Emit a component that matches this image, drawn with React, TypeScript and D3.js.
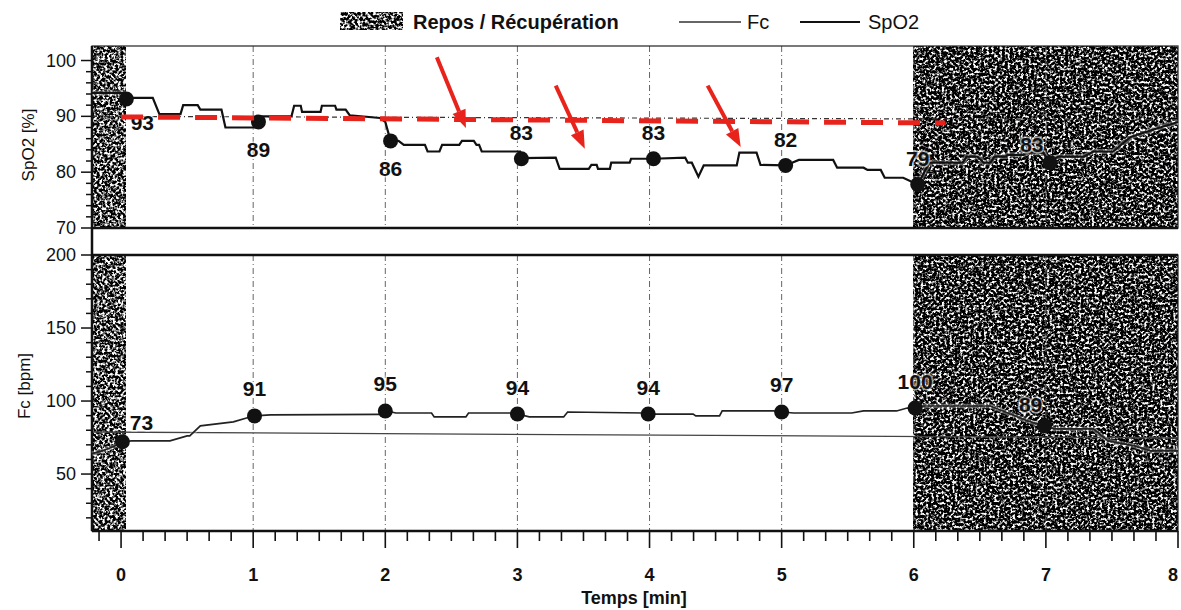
import React from 'react';
import * as d3 from 'd3';

// time in minutes, SpO2 in %
const spo2Time = [-0.22, 0.02, 0.04, 0.24, 0.29, 0.45, 0.47, 0.58, 0.6, 0.76, 0.79, 1.03, 1.07, 1.29, 1.31, 1.36, 1.37, 1.51, 1.52, 1.62, 1.63, 1.7, 1.73, 1.96, 2.0, 2.04, 2.1, 2.14, 2.3, 2.32, 2.41, 2.43, 2.56, 2.58, 2.67, 2.69, 2.71, 2.73, 3.02, 3.03, 3.29, 3.32, 3.54, 3.56, 3.6, 3.61, 3.7, 3.71, 3.85, 3.86, 4.03, 4.27, 4.29, 4.32, 4.37, 4.41, 4.66, 4.68, 4.81, 4.84, 5.03, 5.13, 5.39, 5.42, 5.62, 5.65, 5.75, 5.78, 5.92, 6.03, 6.09, 6.12, 6.37, 6.4, 6.48, 6.53, 6.58, 6.61, 6.7, 6.71, 6.83, 6.85, 6.98, 7.03, 7.09, 7.29, 7.36, 7.51, 7.64, 7.81, 8.0];
const spo2Value = [94.2, 94.2, 93.3, 93.3, 90.4, 90.4, 92, 92, 91.2, 91.2, 88, 88, 90, 90, 91.9, 91.9, 90.8, 90.8, 91.9, 91.9, 91.2, 91.2, 90.2, 89.7, 89, 85.6, 85.6, 84.9, 84.9, 83.7, 83.7, 84.9, 84.9, 85.6, 85.6, 84.9, 84.9, 83.7, 83.7, 82.5, 82.6, 80.6, 80.6, 81.3, 81.3, 80.6, 80.6, 81.7, 81.7, 82.4, 82.4, 82.6, 81.7, 81.7, 79.2, 81.2, 81.2, 83.5, 83.5, 81.3, 81.2, 82.2, 82.2, 80.8, 80.8, 80.4, 80.4, 79, 79, 77.8, 80.5, 81.7, 81.7, 82.8, 82.8, 81.7, 81.7, 82.8, 82.8, 83.1, 83.1, 83.5, 83.5, 81.7, 82.8, 82.8, 83.7, 83.7, 86.3, 87.6, 89];

// time in minutes, Fc in bpm
const fcTime = [-0.22, -0.14, -0.05, 0.01, 0.08, 0.37, 0.5, 0.52, 0.6, 0.85, 0.95, 1.01, 1.13, 1.96, 2.01, 2.08, 2.35, 2.37, 2.61, 2.63, 2.96, 3.0, 3.09, 3.35, 3.38, 3.96, 3.99, 4.07, 4.33, 4.35, 4.53, 4.55, 4.94, 5.0, 5.09, 5.53, 5.62, 5.87, 5.95, 6.01, 6.08, 6.58, 6.86, 6.99, 7.06, 7.36, 7.47, 7.67, 7.79, 8.0];
const fcValue = [64, 66, 69, 72.1, 72.7, 72.7, 76.1, 76.1, 83, 85.7, 88.4, 89.8, 90.5, 90.8, 93.2, 91.8, 91.8, 89.1, 89.1, 91.8, 91.8, 91.1, 89.1, 89.1, 92.5, 91.8, 91.1, 91.1, 91.1, 89.8, 89.8, 93.2, 93.2, 92.5, 91.8, 91.8, 93.2, 93.2, 95.2, 95.2, 96.6, 96.6, 86.4, 83, 80.9, 80.9, 72.7, 69.3, 65.9, 65.9];

const spo2DotTime = [0.04, 1.04, 2.04, 3.03, 4.03, 5.03, 6.03, 7.03];
const spo2DotValue = [93.1, 89, 85.6, 82.4, 82.4, 81.2, 77.8, 81.7];
const spo2Labels = ['93', '89', '86', '83', '83', '82', '79', '83'];

const fcDotTime = [0.01, 1.01, 2.0, 3.0, 3.99, 5.0, 6.01, 6.99];
const fcDotValue = [72.1, 89.8, 93.2, 91.1, 91.1, 92.5, 95.2, 83];
const fcLabels = ['73', '91', '95', '94', '94', '97', '100', '89'];

const restStart = [-0.22, 6];
const restEnd = [0.03, 8];

const minuteTicks = [0, 1, 2, 3, 4, 5, 6, 7, 8];
const spo2Ticks = [70, 80, 90, 100];
const fcTicks = [50, 100, 150, 200];

const spo2RefTime = [-0.22, 8];
const spo2RefValue = [90, 89.4];
const fcRefTime = [-0.22, 8];
const fcRefValue = [78.8, 74.7];

// red annotations drawn on the print
const targetTime = [0, 6.24];
const targetValue = [89.9, 88.8];
const arrowTailTime = [2.39, 3.29, 4.44];
const arrowTailValue = [100.6, 95.5, 95.5];
const arrowTipTime = [2.61, 3.51, 4.69];
const arrowTipValue = [87.9, 84.2, 84.5];

const W = 1181;
const H = 610;
const left = 92;
const right = 1178;
const topY0 = 46;
const topY1 = 228;
const botY0 = 255;
const botY1 = 531;
const font = '"Liberation Sans", Arial, sans-serif';
const red = '#e8231c';

export default function App() {
  const x = d3.scaleLinear().domain([-0.22, 8]).range([left, right]);
  const yTop = d3.scaleLinear().domain([70, 102.6]).range([topY1, topY0]);
  const yBot = d3.scaleLinear().domain([11, 200]).range([botY1, botY0]);

  const spo2Line = d3.line<number>().x((_, i) => x(spo2Time[i])).y(v => yTop(v))(spo2Value) || '';
  const fcLine = d3.line<number>().x((_, i) => x(fcTime[i])).y(v => yBot(v))(fcValue) || '';

  const minorX = d3.range(-1, 49).map(i => i / 6);
  const minorTop = d3.range(70, 102, 2);
  const minorBot = d3.range(20, 201, 10);

  const arrows = arrowTailTime.map((t, i) => {
    const x0 = x(t), y0 = yTop(arrowTailValue[i]);
    const x1 = x(arrowTipTime[i]), y1 = yTop(arrowTipValue[i]);
    const a = Math.atan2(y1 - y0, x1 - x0);
    const hl = 18, hw = 7;
    const bx = x1 - hl * Math.cos(a), by = y1 - hl * Math.sin(a);
    const nx = -Math.sin(a) * hw, ny = Math.cos(a) * hw;
    return { x0, y0, bx, by, head: `${x1},${y1} ${bx + nx},${by + ny} ${bx - nx},${by - ny}` };
  });

  const topLabelPos = (i: number) => {
    if (i === 0) return [16, 23];
    if (i < 3) return [0, 28];
    if (i === 7) return [-18, -18];
    return [0, -26];
  };
  const botLabelPos = (i: number) => {
    if (i === 0) return [19, -19];
    if (i === 7) return [-14, -21];
    return [0, -27];
  };

  return (
    <svg width={W} height={H} style={{ position: 'absolute', left: 0, top: 0, background: '#fff' }} fontFamily={font}>
      <defs>
        <filter id="grain" x="0" y="0" width="1" height="1" filterUnits="objectBoundingBox" colorInterpolationFilters="sRGB">
          <feTurbulence type="fractalNoise" baseFrequency="0.38" numOctaves="2" seed="7" result="n" />
          <feColorMatrix in="n" type="matrix" values="4.6 0 0 0 -2.0  4.6 0 0 0 -2.0  4.6 0 0 0 -2.0  0 0 0 0 1" />
        </filter>
        <filter id="grainDark" x="0" y="0" width="1" height="1" filterUnits="objectBoundingBox" colorInterpolationFilters="sRGB">
          <feTurbulence type="fractalNoise" baseFrequency="0.38" numOctaves="2" seed="11" result="n" />
          <feColorMatrix in="n" type="matrix" values="4.6 0 0 0 -2.17  4.6 0 0 0 -2.17  4.6 0 0 0 -2.17  0 0 0 0 1" />
        </filter>
      </defs>

      {/* legend */}
      <rect x={340} y={12} width={63} height={18} fill="#444" filter="url(#grain)" />
      <text x={413} y={29} fontSize={20} fontWeight="bold" fill="#111">Repos / Récupération</text>
      <line x1={679} x2={741} y1={22} y2={22} stroke="#333" strokeWidth={1.5} />
      <text x={747} y={29} fontSize={20} fill="#111">Fc</text>
      <line x1={800} x2={860} y1={22} y2={22} stroke="#111" strokeWidth={2} />
      <text x={868} y={29} fontSize={20} fill="#111">SpO2</text>

      {/* rest / recovery bands */}
      {restStart.map((s, i) => {
        const f = i === 0 ? 'url(#grain)' : 'url(#grainDark)';
        return (
          <g key={'rest' + i}>
            <rect x={x(s)} y={topY0} width={x(restEnd[i]) - x(s)} height={topY1 - topY0} fill="#444" filter={f} />
            <rect x={x(s)} y={botY0} width={x(restEnd[i]) - x(s)} height={botY1 - botY0} fill="#444" filter={f} />
          </g>
        );
      })}

      {/* vertical grid */}
      {minuteTicks.filter(t => t > 0 && t < 8).map(t => (
        <g key={'g' + t} stroke="#666" strokeWidth={1} strokeDasharray="6,3,1,3">
          <line x1={x(t)} x2={x(t)} y1={topY0} y2={topY1} />
          <line x1={x(t)} x2={x(t)} y1={botY0} y2={botY1} />
        </g>
      ))}

      {/* reference lines */}
      <line x1={x(spo2RefTime[0])} x2={x(spo2RefTime[1])} y1={yTop(spo2RefValue[0])} y2={yTop(spo2RefValue[1])}
        stroke="#333" strokeWidth={1.2} strokeDasharray="5,3,1,3" />
      <line x1={x(fcRefTime[0])} x2={x(fcRefTime[1])} y1={yBot(fcRefValue[0])} y2={yBot(fcRefValue[1])}
        stroke="#444" strokeWidth={1.3} />

      {/* panel frames */}
      <rect x={left} y={topY0} width={right - left} height={topY1 - topY0} fill="none" stroke="#222" strokeWidth={1.2} />
      <rect x={left} y={botY0} width={right - left} height={botY1 - botY0} fill="none" stroke="#222" strokeWidth={1.2} />
      <line x1={left} x2={right} y1={topY1} y2={topY1} stroke="#111" strokeWidth={2.5} />
      <line x1={left} x2={right} y1={botY0} y2={botY0} stroke="#111" strokeWidth={2.5} />
      <line x1={left} x2={left} y1={topY0} y2={botY1} stroke="#111" strokeWidth={2.5} />
      <line x1={left} x2={right} y1={botY1} y2={botY1} stroke="#111" strokeWidth={2.5} />

      {/* series, with a faint halo so they stay readable over the dark bands */}
      <path d={spo2Line} fill="none" stroke="#fff" strokeOpacity={0.35} strokeWidth={5} />
      <path d={fcLine} fill="none" stroke="#fff" strokeOpacity={0.35} strokeWidth={4.5} />
      <path d={spo2Line} fill="none" stroke="#111" strokeWidth={2.2} />
      <path d={fcLine} fill="none" stroke="#222" strokeWidth={1.7} />

      {spo2DotTime.map((t, i) => {
        const [dx, dy] = topLabelPos(i);
        const cx = x(t), cy = yTop(spo2DotValue[i]);
        return (
          <g key={'sd' + i}>
            <circle cx={cx} cy={cy} r={7.5} fill="#111" />
            <text x={cx + dx} y={cy + dy} fontSize={21} fontWeight="bold" textAnchor="middle" dominantBaseline="central"
              fill="#111" stroke="#fff" strokeOpacity={0.6} strokeWidth={3} paintOrder="stroke">{spo2Labels[i]}</text>
          </g>
        );
      })}
      {fcDotTime.map((t, i) => {
        const [dx, dy] = botLabelPos(i);
        const cx = x(t), cy = yBot(fcDotValue[i]);
        return (
          <g key={'fd' + i}>
            <circle cx={cx} cy={cy} r={7.5} fill="#111" />
            <text x={cx + dx} y={cy + dy} fontSize={21} fontWeight="bold" textAnchor="middle" dominantBaseline="central"
              fill="#111" stroke="#fff" strokeOpacity={0.6} strokeWidth={3} paintOrder="stroke">{fcLabels[i]}</text>
          </g>
        );
      })}

      {/* red annotations */}
      <line x1={x(targetTime[0])} x2={x(targetTime[1])} y1={yTop(targetValue[0])} y2={yTop(targetValue[1])}
        stroke={red} strokeWidth={5} strokeDasharray="22,15" />
      {arrows.map((a, i) => (
        <g key={'ar' + i}>
          <line x1={a.x0} y1={a.y0} x2={a.bx} y2={a.by} stroke={red} strokeWidth={4} />
          <polygon points={a.head} fill={red} />
        </g>
      ))}

      {/* y axes */}
      {minorTop.map(v => (
        <line key={'mt' + v} x1={left - (v % 10 === 0 ? 11 : 6)} x2={left} y1={yTop(v)} y2={yTop(v)} stroke="#111" strokeWidth={1.5} />
      ))}
      {minorBot.map(v => (
        <line key={'mb' + v} x1={left - (v % 50 === 0 ? 11 : 6)} x2={left} y1={yBot(v)} y2={yBot(v)} stroke="#111" strokeWidth={1.5} />
      ))}
      {spo2Ticks.map(v => (
        <text key={'st' + v} x={76} y={yTop(v)} fontSize={18} textAnchor="end" dominantBaseline="central" fill="#111">{v}</text>
      ))}
      {fcTicks.map(v => (
        <text key={'ft' + v} x={76} y={yBot(v)} fontSize={18} textAnchor="end" dominantBaseline="central" fill="#111">{v}</text>
      ))}
      <text transform={`translate(28,${(yTop(70) + yTop(102.6)) / 2 + 8}) rotate(-90)`} fontSize={17} textAnchor="middle" dominantBaseline="central" fill="#111">SpO2 [%]</text>
      <text transform={`translate(24,${yBot(100) - 15}) rotate(-90)`} fontSize={17} textAnchor="middle" dominantBaseline="central" fill="#111">Fc [bpm]</text>

      {/* x axis */}
      {minorX.filter(t => t >= -0.2 && t <= 8.001).map((t, i) => {
        const major = Math.abs(t - Math.round(t)) < 1e-6;
        return <line key={'xt' + i} x1={x(t)} x2={x(t)} y1={botY1} y2={botY1 + (major ? 17 : 10)} stroke="#111" strokeWidth={1.6} />;
      })}
      {minuteTicks.map(t => (
        <text key={'xl' + t} x={Math.min(x(t), W - 8)} y={575} fontSize={18} fontWeight="bold" textAnchor="middle" dominantBaseline="central" fill="#111">{t}</text>
      ))}
      <text x={634} y={598} fontSize={18} fontWeight="bold" textAnchor="middle" dominantBaseline="central" fill="#111">Temps [min]</text>
    </svg>
  );
}
